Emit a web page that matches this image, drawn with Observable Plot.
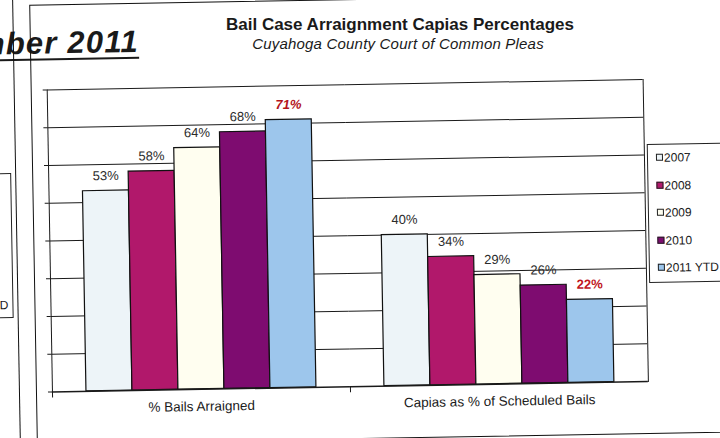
<!DOCTYPE html>
<html>
<head>
<meta charset="utf-8">
<script src="https://cdn.jsdelivr.net/npm/d3@7"></script>
<script src="https://cdn.jsdelivr.net/npm/@observablehq/plot@0.6"></script>
<style>
  html, body { margin: 0; padding: 0; background: #fff; width: 720px; height: 438px; overflow: hidden; position: relative;
               font-family: "Liberation Sans", Arial, sans-serif; color: #1a1a1a; }
  #page { position: absolute; left: 0; top: 0; width: 720px; height: 438px; transform: rotate(-1deg); transform-origin: 360px 219px; }
  #page > * { position: absolute; }
  #doc { right: 578px; top: 22px; font-size: 31px; line-height: 31px; font-weight: bold; font-style: italic; white-space: nowrap;
         letter-spacing: 1.2px; text-decoration: underline; text-decoration-thickness: 2px; text-underline-offset: 5px; }
  #title { position: absolute; left: 0; width: 800px; top: 16px; line-height: 17px; text-align: center; font-size: 17px; font-weight: bold; white-space: nowrap; }
  #subtitle { position: absolute; left: 0; width: 796px; top: 36px; line-height: 15px; text-align: center; font-size: 15px; font-style: italic; letter-spacing: 0.2px; white-space: nowrap; }
  #chart { left: 0; top: 0; }
  #legend { left: 648px; top: 149px; width: 100px; height: 137px; border: 1px solid #222; background: #fff; }
  .item { position: absolute; left: 8px; font-size: 12px; white-space: nowrap; line-height: 14px; }
  .sw { display: inline-block; width: 5px; height: 5px; border: 1px solid #222; margin-right: 1px; vertical-align: 1px; }
  #oldlegend { left: -70px; top: 167px; width: 80px; height: 143px; border: 1px solid #222; }
  #oldlegend span { position: absolute; right: 4px; top: 124px; font-size: 12px; line-height: 14px; white-space: nowrap; }
  #frameA { left: -10px; top: -6px; width: 26px; height: 460px; border: 1px solid #111; border-width: 0 1.5px 0 0; }
  #frameB { left: 33px; top: -1px; width: 800px; height: 438px; border: 1.5px solid #111; }
</style>
</head>
<body>
<div id="page">
  <div id="doc">November 2011</div>
  <div id="frameA"></div>
  <div id="frameB"></div>
  <div id="oldlegend"><span>&#9633;2011 YTD</span></div>
  <div id="chart"></div>
  <div id="legend"></div>
</div>
<div id="title">Bail Case Arraignment Capias Percentages</div>
<div id="subtitle">Cuyahoga County Court of Common Pleas</div>
<script>
// ---- data ----
const groups = ["% Bails Arraigned", "Capias as % of Scheduled Bails"];
const years = ["2007", "2008", "2009", "2010", "2011 YTD"];
const bailsArraigned = [53, 58, 64, 68, 71];
const capiasOfScheduled = [40, 34, 29, 26, 22];
const yearColors = ["#edf4f8", "#b1186b", "#fffef0", "#7e0c70", "#9dc6ec"];
const yTicks = [0, 10, 20, 30, 40, 50, 60, 70, 80];

const series = [bailsArraigned, capiasOfScheduled];
const data = [];
groups.forEach((g, gi) => years.forEach((y, yi) => data.push({group: g, year: y, value: series[gi][yi]})));

const latest = years[years.length - 1];
const common = {fx: "group", x: "year", y: "value", text: d => d.value + "%", dy: -15, fontSize: 13};

const chart = Plot.plot({
  width: 720,
  height: 438,
  marginLeft: 49,
  marginRight: 75,
  marginTop: 84,
  marginBottom: 52,
  style: {fontFamily: "Liberation Sans, Arial, sans-serif", background: "transparent", overflow: "visible", color: "#1a1a1a"},
  fx: {domain: groups, padding: 0, label: null},
  x: {domain: years, paddingInner: 0, paddingOuter: 0.71, axis: null},
  y: {domain: [0, 80], axis: null},
  color: {domain: years, range: yearColors},
  marks: [
    Plot.gridY(yTicks.slice(1), {stroke: "#1a1a1a", strokeOpacity: 1, strokeWidth: 1}),
    Plot.axisY(yTicks, {anchor: "left", tickSize: 4, tickFormat: () => "", label: null, stroke: "#1a1a1a"}),
    Plot.frame({anchor: "left", facetAnchor: "left", stroke: "#1a1a1a"}),
    Plot.frame({anchor: "right", facetAnchor: "right", stroke: "#1a1a1a"}),
    Plot.frame({anchor: "left", insetTop: 302, insetBottom: -5, stroke: "#1a1a1a"}),
    Plot.barY(data, {fx: "group", x: "year", y: "value", fill: "year", stroke: "#111", strokeWidth: 1.2}),
    Plot.ruleY([0], {stroke: "#1a1a1a", strokeWidth: 1.5}),
    Plot.text(data.filter(d => d.year !== latest), {...common, fill: "#2b2b2b"}),
    Plot.text(data.filter(d => d.year === latest && d.group === groups[0]), {...common, fill: "#b3141c", fontWeight: "bold", fontStyle: "italic"}),
    Plot.text(data.filter(d => d.year === latest && d.group === groups[1]), {...common, fill: "#c0161e", fontWeight: "bold"}),
    Plot.axisFx({anchor: "bottom", tickSize: 0, tickPadding: 12, fontSize: 13.5, label: null, fill: "#1a1a1a"})
  ]
});
document.getElementById("chart").appendChild(chart);

// ---- legend ----
const legend = document.getElementById("legend");
years.forEach((y, i) => {
  const it = document.createElement("div");
  it.className = "item";
  it.style.top = (6 + i * 27.5) + "px";
  it.innerHTML = `<span class="sw" style="background:${yearColors[i]}"></span>${y}`;
  legend.appendChild(it);
});
</script>
</body>
</html>
